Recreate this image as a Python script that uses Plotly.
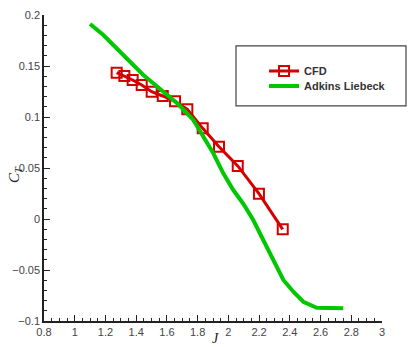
import plotly.graph_objects as go

cfd_j = [1.273, 1.323, 1.377, 1.436, 1.501, 1.573, 1.653, 1.733, 1.833, 1.939, 2.061, 2.199, 2.354]
cfd_ct = [0.1434, 0.1402, 0.1363, 0.1314, 0.1248, 0.1206, 0.1154, 0.1075, 0.0889, 0.0709, 0.0520, 0.0248, -0.0101]

al_j = [1.100, 1.186, 1.251, 1.316, 1.381, 1.446, 1.511, 1.599, 1.674, 1.772, 1.837, 1.902,
        1.967, 2.032, 2.097, 2.162, 2.227, 2.293, 2.358, 2.423, 2.488, 2.575, 2.662, 2.748]
al_ct = [0.1912, 0.1804, 0.1706, 0.1608, 0.1510, 0.1412, 0.1330, 0.1216, 0.1125, 0.0971, 0.0807, 0.0644,
         0.0448, 0.0284, 0.0150, -0.0010, -0.0206, -0.0402, -0.0598, -0.0713, -0.0811, -0.0870, -0.0875, -0.0875]

fig = go.Figure()
fig.add_trace(go.Scatter(
    x=cfd_j, y=cfd_ct, mode="lines+markers", name="CFD", legend="legend",
    line=dict(color="#d40000", width=3),
    marker=dict(symbol="square-open", size=10, color="#d40000", line=dict(width=2)),
))
fig.add_trace(go.Scatter(
    x=al_j, y=al_ct, mode="lines", name="Adkins Liebeck", legend="legend2",
    line=dict(color="#00c800", width=4, shape="linear"),
))

axis_common = dict(
    showline=True, linecolor="#222", linewidth=1.5, mirror=False,
    ticks="inside", ticklen=6, tickwidth=1, tickcolor="#222",
    showgrid=False, zeroline=False, automargin=False,
    tickfont=dict(family="Liberation Sans, Arial", size=11, color="#444"),
)
fig.update_xaxes(range=[0.8, 3], dtick=0.2, tick0=0.8,
                 minor=dict(dtick=0.05, ticks="inside", ticklen=3, tickcolor="#222"),
                 **axis_common)
fig.update_yaxes(range=[-0.1, 0.2], dtick=0.05, tick0=0,
                 minor=dict(dtick=0.01, ticks="inside", ticklen=3, tickcolor="#222"),
                 **axis_common)

fig.add_shape(type="rect", xref="paper", yref="paper",
              x0=0.568, x1=1.071, y0=0.703, y1=0.899,
              line=dict(color="#444", width=1.2), fillcolor="white", layer="below")

fig.add_annotation(text="<i>C<sub>T</sub></i>", xref="paper", yref="paper", x=-0.086, y=0.48,
                   showarrow=False, textangle=-90, xanchor="center", yanchor="middle",
                   font=dict(family="Liberation Serif, Times New Roman", size=15, color="#222"))
fig.add_annotation(text="<i>J</i>", xref="paper", yref="paper", x=0.506, y=-0.058,
                   showarrow=False, yanchor="middle",
                   font=dict(family="Liberation Serif, Times New Roman", size=14, color="#222"))

leg_font = dict(family="Liberation Sans, Arial", size=11, color="#333", weight="bold")
fig.update_layout(
    width=409, height=347,
    margin=dict(l=44, r=27, t=15, b=26),
    plot_bgcolor="white", paper_bgcolor="white",
    showlegend=True,
    legend=dict(x=0.651, y=(321 - 71) / 306, xanchor="left", yanchor="middle",
                bgcolor="rgba(0,0,0,0)", borderwidth=0, font=leg_font),
    legend2=dict(x=0.651, y=(321 - 86) / 306, xanchor="left", yanchor="middle",
                 bgcolor="rgba(0,0,0,0)", borderwidth=0, font=leg_font),
)

fig.write_html("out.html", config={"displayModeBar": False},
               post_script="document.body.style.margin='0px';")
